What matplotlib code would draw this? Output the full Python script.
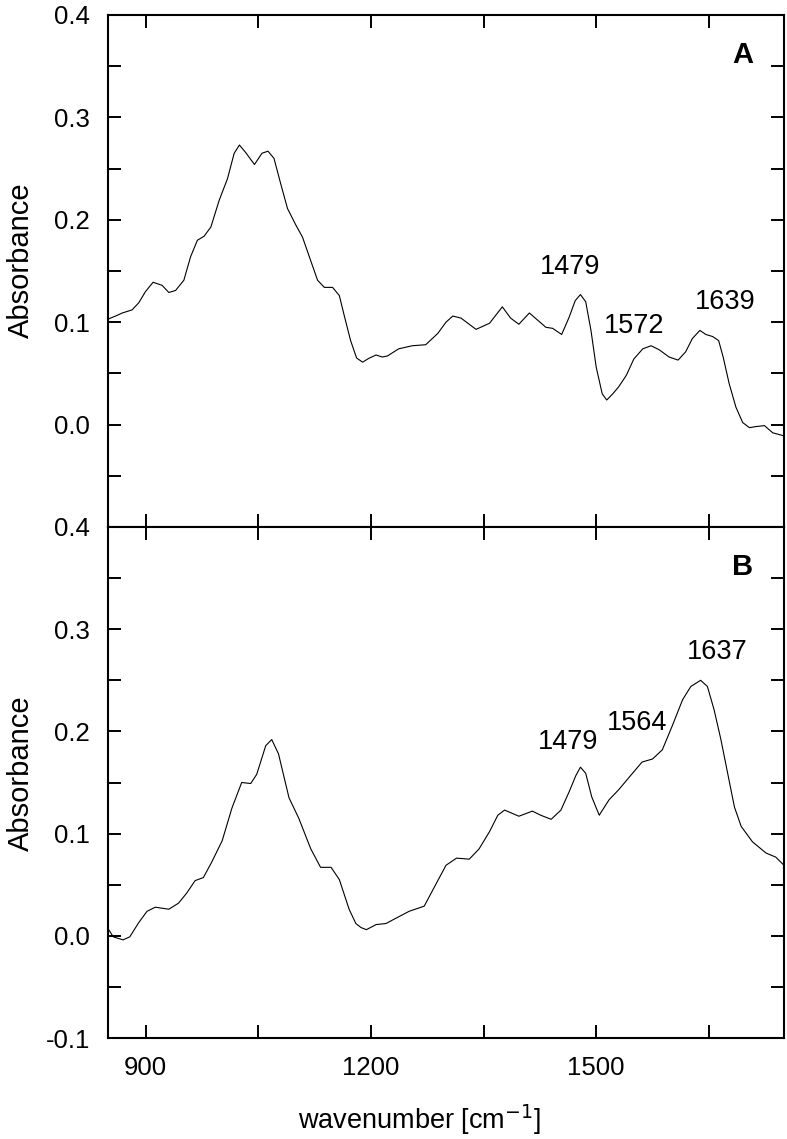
import matplotlib
matplotlib.use("Agg")
import matplotlib.pyplot as plt
from matplotlib.ticker import FixedLocator

plt.rcParams['font.family'] = ['Liberation Sans', 'DejaVu Sans']

# spectrum A
wn_a = [850, 860, 869, 882, 891, 900, 910, 922, 931, 940, 951, 960, 969, 978,
        987, 998, 1009, 1018, 1025, 1033, 1045, 1055, 1063, 1071, 1080, 1089,
        1100, 1109, 1118, 1129, 1138, 1149, 1158, 1164, 1173, 1181, 1189, 1198,
        1207, 1215, 1222, 1237, 1255, 1273, 1289, 1300, 1309, 1320, 1340, 1358,
        1375, 1386, 1397, 1411, 1422, 1433, 1442, 1454, 1464, 1472, 1479, 1486,
        1493, 1500, 1508, 1514, 1522, 1530, 1540, 1550, 1562, 1573, 1584, 1597,
        1609, 1619, 1628, 1638, 1646, 1655, 1663, 1669, 1677, 1686, 1695, 1704,
        1712, 1724, 1735, 1750]
abs_a = [0.103, 0.106, 0.109, 0.112, 0.119, 0.130, 0.139, 0.136, 0.129, 0.131,
         0.141, 0.164, 0.180, 0.184, 0.193, 0.219, 0.240, 0.265, 0.273, 0.266,
         0.254, 0.265, 0.267, 0.260, 0.235, 0.211, 0.195, 0.183, 0.164, 0.141,
         0.134, 0.134, 0.126, 0.108, 0.082, 0.065, 0.061, 0.065, 0.068, 0.066,
         0.067, 0.074, 0.077, 0.078, 0.089, 0.100, 0.106, 0.104, 0.093, 0.099,
         0.115, 0.104, 0.098, 0.109, 0.102, 0.095, 0.094, 0.088, 0.105, 0.121,
         0.127, 0.120, 0.092, 0.056, 0.030, 0.024, 0.030, 0.037, 0.048, 0.064,
         0.074, 0.077, 0.073, 0.066, 0.063, 0.071, 0.084, 0.092, 0.088, 0.086,
         0.082, 0.066, 0.040, 0.017, 0.002, -0.003, -0.002, -0.001, -0.008,
         -0.011]

# spectrum B
wn_b = [850, 857, 870, 879, 891, 902, 913, 931, 944, 955, 966, 977, 988, 1002,
        1015, 1028, 1040, 1048, 1060, 1068, 1077, 1091, 1104, 1120, 1133, 1147,
        1158, 1171, 1180, 1187, 1194, 1207, 1220, 1238, 1251, 1271, 1284, 1300,
        1314, 1331, 1344, 1358, 1369, 1378, 1397, 1415, 1426, 1440, 1453, 1464,
        1473, 1479, 1486, 1494, 1504, 1517, 1530, 1546, 1561, 1575, 1588, 1601,
        1615, 1626, 1639, 1648, 1657, 1666, 1675, 1684, 1693, 1708, 1726, 1739,
        1750]
abs_b = [0.007, -0.001, -0.004, -0.001, 0.013, 0.024, 0.028, 0.026, 0.032,
         0.042, 0.054, 0.057, 0.072, 0.093, 0.125, 0.150, 0.149, 0.158, 0.186,
         0.192, 0.178, 0.135, 0.115, 0.085, 0.067, 0.067, 0.055, 0.026, 0.012,
         0.008, 0.006, 0.011, 0.012, 0.019, 0.024, 0.029, 0.047, 0.069, 0.076,
         0.075, 0.085, 0.102, 0.118, 0.123, 0.117, 0.122, 0.118, 0.114, 0.123,
         0.141, 0.157, 0.165, 0.159, 0.136, 0.118, 0.133, 0.143, 0.157, 0.170,
         0.173, 0.182, 0.205, 0.231, 0.244, 0.250, 0.244, 0.221, 0.192, 0.159,
         0.126, 0.107, 0.092, 0.081, 0.077, 0.069]

peaks_a = ["1479", "1572", "1639"]
peaks_b = ["1479", "1564", "1637"]

fig = plt.figure(figsize=(7.87, 11.39), dpi=100)
W, H = 787, 1139
left, right = 108, 784
ax_a = fig.add_axes([left / W, 1 - 527 / H, (right - left) / W, 512 / H])
ax_b = fig.add_axes([left / W, 1 - 1038 / H, (right - left) / W, 511 / H])


def style(ax, ylabels):
    ax.set_xlim(850, 1750)
    ax.set_ylim(-0.1, 0.4)
    ax.xaxis.set_major_locator(FixedLocator([900, 1200, 1500]))
    ax.xaxis.set_minor_locator(FixedLocator([1050, 1350, 1650]))
    ax.yaxis.set_major_locator(FixedLocator(ylabels))
    ax.yaxis.set_minor_locator(FixedLocator([-0.05, 0.05, 0.15, 0.25, 0.35]))
    ax.set_yticklabels(["%.1f" % v for v in ylabels])
    ax.tick_params(which="both", direction="in", length=9.5, width=1.4,
                   top=True, right=True, labelsize=18.5, pad=13)
    for s in ax.spines.values():
        s.set_linewidth(1.5)
    ax.set_ylabel("Absorbance", fontsize=21)
    ax.yaxis.label.set_va("center")


style(ax_a, [0.0, 0.1, 0.2, 0.3, 0.4])
style(ax_b, [-0.1, 0.0, 0.1, 0.2, 0.3, 0.4])
ax_a.tick_params(labelbottom=False)
ax_a.yaxis.set_label_coords(-0.129, 0.521)
ax_b.yaxis.set_label_coords(-0.129, 0.519)

ax_a.plot(wn_a, abs_a, color="black", lw=0.8)
ax_b.plot(wn_b, abs_b, color="black", lw=0.8)

ann = dict(fontsize=19.5, ha="center", va="center")
for txt, x, y in zip(peaks_a, [1465, 1550, 1672], [0.154, 0.096, 0.120]):
    ax_a.text(x, y, txt, **ann)
for txt, x, y in zip(peaks_b, [1462, 1554, 1661], [0.190, 0.208, 0.278]):
    ax_b.text(x, y, txt, **ann)

ax_a.text(0.939, 0.922, "A", transform=ax_a.transAxes, fontsize=21,
          fontweight="bold", ha="center", va="center")
ax_b.text(0.939, 0.922, "B", transform=ax_b.transAxes, fontsize=21,
          fontweight="bold", ha="center", va="center")

ax_b.set_xlabel("wavenumber [cm$^{-1}$]", fontsize=19.5)
ax_b.xaxis.label.set_va("center")
ax_b.xaxis.set_label_coords((420 - left) / (right - left), -(1120 - 1038) / 511)

fig.savefig("out.png", dpi=100)
